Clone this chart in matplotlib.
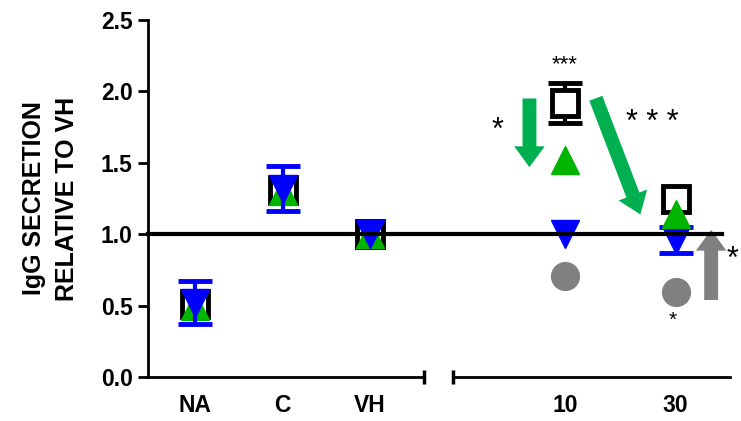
import matplotlib
matplotlib.use("Agg")
from matplotlib import pyplot as plt
from matplotlib import transforms
from matplotlib.lines import Line2D

plt.rcParams['font.family'] = ['Liberation Sans', 'DejaVu Sans']
plt.rcParams['font.weight'] = 'bold'
plt.rcParams['axes.labelweight'] = 'bold'

# left panel: controls
ctrl_labels = ['NA', 'C', 'VH']
ctrl_square = [0.51, 1.31, 1.00]
ctrl_green = [0.50, 1.30, 1.00]
ctrl_blue = [0.52, 1.32, 1.00]
ctrl_blue_err = [0.15, 0.16, 0.0]

# right panel: doses
dose_labels = ['10', '30']
dose_square = [1.92, 1.25]
dose_square_err = [0.14, 0.0]
dose_green = [1.52, 1.14]
dose_blue = [1.00, 0.96]
dose_blue_err = [0.0, 0.09]
dose_gray = [0.71, 0.595]

GREEN = '#00b400'
ARROW_GREEN = '#00b050'
BLUE = '#0000ff'
GRAY = '#808080'

W, H = 741, 421
fig = plt.figure(figsize=(W / 100, H / 100), dpi=100)
bot = (H - 377) / H
top = (H - 20) / H
ax1 = fig.add_axes([148 / W, bot, (424 - 148) / W, top - bot])
ax2 = fig.add_axes([453 / W, bot, (730 - 453) / W, top - bot], sharey=ax1)

ms = 19
sq_kw = dict(marker='s', ms=ms, mfc='white', mec='black', mew=3.5, ls='none')
gr_kw = dict(marker='^', ms=ms + 1, color=GREEN, ls='none')
bl_kw = dict(marker='v', ms=ms + 1, color=BLUE, ls='none')
gy_kw = dict(marker='o', ms=ms + 1, color=GRAY, ls='none')


def err(ax, x, y, e, color, z):
    # only the points that carry a visible error bar
    pts = [(xi, yi, ei) for xi, yi, ei in zip(x, y, e) if ei > 0]
    if pts:
        px, py, pe = zip(*pts)
        ax.errorbar(px, py, yerr=pe, fmt='none', ecolor=color, elinewidth=3,
                    capsize=12, capthick=3.5, zorder=z)


xc = list(range(len(ctrl_labels)))
ax1.plot(xc, ctrl_square, zorder=3, **sq_kw)
ax1.plot(xc, ctrl_green, zorder=4, **gr_kw)
ax1.plot(xc, ctrl_blue, zorder=5, **bl_kw)
err(ax1, xc, ctrl_blue, ctrl_blue_err, BLUE, 5)

xd = list(range(len(dose_labels)))
err(ax2, xd, dose_square, dose_square_err, 'black', 3)
ax2.plot(xd, dose_square, zorder=3, **sq_kw)
err(ax2, xd, dose_blue, dose_blue_err, BLUE, 4)
ax2.plot(xd, dose_blue, zorder=4, **bl_kw)
ax2.plot(xd, dose_green, zorder=5, **gr_kw)
ax2.plot(xd, dose_gray, zorder=4, **gy_kw)

ax1.set_xlim(-0.54, 2.62)
ax2.set_xlim(-1.01, 1.49)
ax1.set_ylim(0, 2.5)
ax1.set_yticks([0, 0.5, 1.0, 1.5, 2.0, 2.5])
ax1.set_yticklabels(['0.0', '0.5', '1.0', '1.5', '2.0', '2.5'])

ax1.set_xticks(xc)
ax1.set_xticklabels(ctrl_labels)
ax2.set_xticks(xd)
ax2.set_xticklabels(dose_labels)

for ax in (ax1, ax2):
    ax.spines['top'].set_visible(False)
    ax.spines['right'].set_visible(False)
    ax.spines['left'].set_linewidth(2)
    ax.spines['bottom'].set_linewidth(2)
    ax.tick_params(axis='x', length=0, pad=12, labelsize=16.5)
    ax.tick_params(axis='y', length=7, width=2, pad=4, labelsize=16.5)
ax2.spines['left'].set_visible(False)
ax2.tick_params(axis='y', left=False, labelleft=False)

# break caps at the ends of the two x-axis segments
ax1.plot([1], [0], marker='|', ms=10, mew=2.5, color='black',
         transform=ax1.transAxes, clip_on=False)
ax2.plot([0], [0], marker='|', ms=10, mew=2.5, color='black',
         transform=ax2.transAxes, clip_on=False)

ax1.set_ylabel('IgG SECRETION\nRELATIVE TO VH', fontsize=18, labelpad=16,
               linespacing=1.45, fontweight='bold')

# reference line at 1.0 across both panels
tr = transforms.blended_transform_factory(fig.transFigure, ax1.transData)
fig.lines.append(Line2D([148 / W, 722 / W], [1.0, 1.0], transform=tr,
                        color='black', lw=3, zorder=2))

# arrows
arr = dict(arrowstyle='simple,head_width=2.2,head_length=1.5,tail_width=1.0',
           lw=0)
ax2.annotate('', xy=(-0.32, 1.45), xytext=(-0.32, 1.97),
             arrowprops=dict(fc=ARROW_GREEN, **arr), annotation_clip=False)
ax2.annotate('', xy=(0.69, 1.12), xytext=(0.27, 1.97),
             arrowprops=dict(fc=ARROW_GREEN, **arr), annotation_clip=False)
ax2.annotate('', xy=(1.32, 1.05), xytext=(1.32, 0.52),
             arrowprops=dict(fc=GRAY, **arr), annotation_clip=False)

# significance stars
star = dict(ha='center', va='center', fontweight='normal', clip_on=False)
ax2.text(0, 2.19, '***', fontsize=16, **star)
ax2.text(-0.61, 1.72, '*', fontsize=22, **star)
ax2.text(0.79, 1.78, '* * *', fontsize=22, **star)
ax2.text(1.51, 0.82, '*', fontsize=22, **star)
ax2.text(0.97, 0.40, '*', fontsize=15, **star)

fig.savefig('out.png', dpi=100)
